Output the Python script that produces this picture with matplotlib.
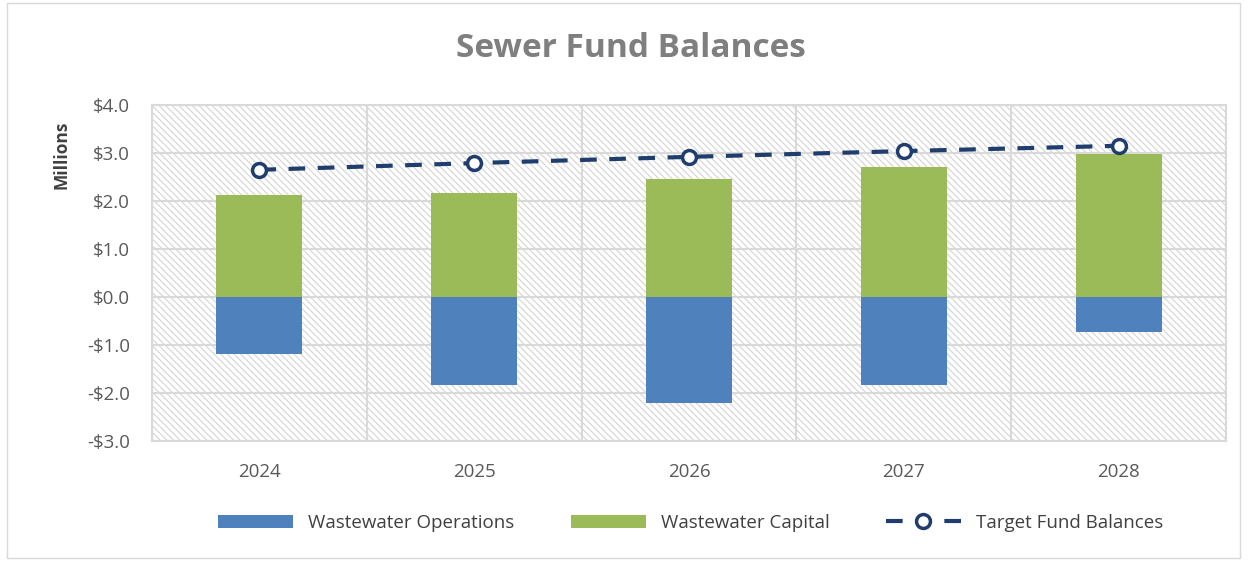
import matplotlib.pyplot as plt
from matplotlib.patches import Rectangle
from matplotlib.ticker import FixedLocator

years = ["2024", "2025", "2026", "2027", "2028"]
operations = [-1.19, -1.83, -2.21, -1.83, -0.73]
capital = [2.13, 2.17, 2.46, 2.71, 2.98]
target = [2.65, 2.79, 2.92, 3.04, 3.15]
yticks = [4, 3, 2, 1, 0, -1, -2, -3]
ytick_labels = ["$4.0", "$3.0", "$2.0", "$1.0", "$0.0", "-$1.0", "-$2.0", "-$3.0"]

plt.rcParams['font.family'] = ['Open Sans', 'DejaVu Sans']
plt.rcParams['hatch.color'] = '#d4d4d4'
plt.rcParams['hatch.linewidth'] = 0.8

fig = plt.figure(figsize=(12.49, 5.67), dpi=100)
fig.patches.append(Rectangle((0.006, 0.015), 0.987, 0.98, transform=fig.transFigure,
                             fill=False, edgecolor='#d9d9d9', lw=1))
ax = fig.add_axes([0.1217, 0.2222, 0.8599, 0.5926])

# hatched plot background
ax.add_patch(Rectangle((0, 0), 1, 1, transform=ax.transAxes, facecolor='white',
                       hatch='\\\\\\\\\\', edgecolor='#d4d4d4', lw=0, zorder=0))

x = range(len(years))
b1 = ax.bar(x, operations, width=0.4, color='#4f81bd', label='Wastewater Operations', zorder=3)
b2 = ax.bar(x, capital, width=0.4, color='#9bbb59', label='Wastewater Capital', zorder=3)
ln, = ax.plot(x, target, color='#1f3e6e', lw=3, dashes=(4, 3), marker='o', markersize=10,
              markerfacecolor='white', markeredgecolor='#1f3e6e', markeredgewidth=2.5,
              label='Target Fund Balances', zorder=4)

ax.set_xlim(-0.5, 4.5)
ax.set_ylim(-3, 4)
ax.set_xticks(list(x))
ax.set_xticklabels(years)
ax.xaxis.set_minor_locator(FixedLocator([-0.5, 0.5, 1.5, 2.5, 3.5, 4.5]))
ax.set_yticks(yticks)
ax.set_yticklabels(ytick_labels)
ax.tick_params(axis='both', which='both', length=0, labelsize=13.5, labelcolor='#595959')
ax.tick_params(axis='x', pad=16)
ax.tick_params(axis='y', pad=16)
ax.grid(axis='y', color='#d9d9d9', lw=1.5, zorder=1)
ax.grid(axis='x', which='minor', color='#d9d9d9', lw=1.5, zorder=1)
for s in ax.spines.values():
    s.set_color('#d9d9d9')
    s.set_linewidth(1.5)

fig.text(62 / 1249, 1 - 155 / 567, 'Millions', rotation=90, ha='center', va='center',
         fontsize=12.5, fontweight='bold', color='#404040')
fig.text(0.505, 0.915, 'Sewer Fund Balances', ha='center', va='center', fontsize=24,
         fontweight='bold', color='#7f7f7f')

fig.legend(handles=[b1, b2, ln], loc='center', bbox_to_anchor=(0.553, 0.078), ncol=3,
           frameon=False, fontsize=13.5, handlelength=4.0, columnspacing=3.0,
           labelcolor='#404040')

fig.savefig('out.png', dpi=100)
